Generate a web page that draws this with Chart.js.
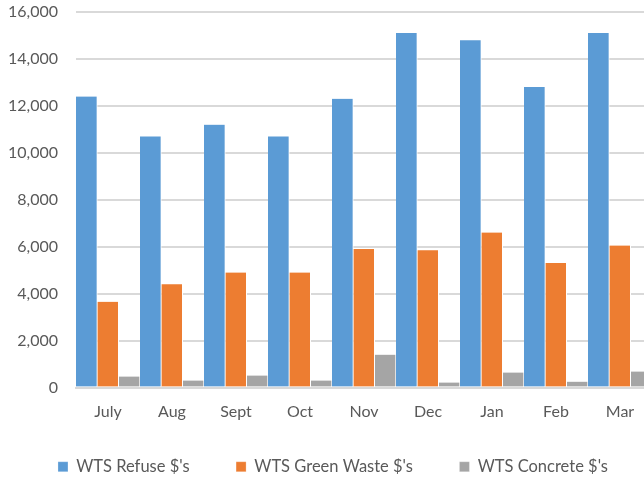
<html>
<head>
  <script src="https://cdn.jsdelivr.net/npm/chart.js@4.4.0/dist/chart.umd.min.js"></script>
  <style>
    body { margin: 0; overflow: hidden; background: #fff; }
    #wrap { width: 666px; height: 477px; }
  </style>
</head>
<body>
  <div id="wrap"><canvas id="wtsChart" width="666" height="477"></canvas></div>
  <script>
    const months = ["July", "Aug", "Sept", "Oct", "Nov", "Dec", "Jan", "Feb", "Mar"];
    const refuse = [12400, 10700, 11200, 10700, 12300, 15100, 14800, 12800, 15100];
    const greenWaste = [3650, 4400, 4900, 4900, 5900, 5850, 6600, 5300, 6050];
    const concrete = [470, 300, 510, 300, 1400, 210, 640, 250, 680];
    const yTicks = [0, 2000, 4000, 6000, 8000, 10000, 12000, 14000, 16000];

    const textColor = "#595959";
    const font = { family: "Lato", size: 16 };
    // trailing spaces give the wide gap between legend entries
    const legendGap = "           ";

    function barSet(label, data, color) {
      return {
        label: label,
        data: data,
        backgroundColor: color,
        borderColor: "#ffffff",
        borderWidth: { top: 0, right: 1, bottom: 0, left: 0 },
        borderSkipped: false,
        categoryPercentage: 1,
        barPercentage: 1
      };
    }

    // nudge legend a bit right, like the original
    const legendShift = {
      id: "legendShift",
      afterLayout(chart) {
        chart.legend.left += 7;
        chart.legend.right += 7;
      }
    };

    new Chart(document.getElementById("wtsChart"), {
      type: "bar",
      data: {
        labels: months,
        datasets: [
          barSet("WTS Refuse $'s", refuse, "#5b9bd5"),
          barSet("WTS Green Waste $'s", greenWaste, "#ed7d31"),
          barSet("WTS Concrete $'s", concrete, "#a5a5a5")
        ]
      },
      plugins: [legendShift],
      options: {
        responsive: false,
        animation: false,
        layout: { padding: { top: 0, right: 14, bottom: -8, left: 0 } },
        plugins: {
          tooltip: { enabled: false },
          legend: {
            position: "bottom",
            labels: {
              color: textColor,
              font: { family: "Lato", size: 16.5 },
              boxWidth: 10,
              boxHeight: 10,
              padding: 0,
              generateLabels: (chart) => {
                const items = Chart.defaults.plugins.legend.labels.generateLabels(chart);
                items.forEach((it, i) => {
                  if (i < items.length - 1) it.text = it.text + legendGap;
                });
                return items;
              }
            }
          }
        },
        scales: {
          x: {
            grid: { display: false, drawTicks: false },
            border: { color: "#d9d9d9", width: 2 },
            ticks: { color: textColor, font: font, padding: 15 },
            afterFit: (scale) => { scale.height = 71; }
          },
          y: {
            min: 0,
            max: 16000,
            afterBuildTicks: (scale) => { scale.ticks = yTicks.map(v => ({ value: v })); },
            afterFit: (scale) => {
              scale.width = 76;
              scale.paddingTop = 12;
              scale.paddingBottom = 0;
            },
            grid: { color: "#d9d9d9", lineWidth: 2, drawTicks: false },
            border: { display: false },
            ticks: {
              color: textColor,
              font: font,
              padding: 18,
              callback: (v) => v.toLocaleString("en-US")
            }
          }
        }
      }
    });
  </script>
</body>
</html>
